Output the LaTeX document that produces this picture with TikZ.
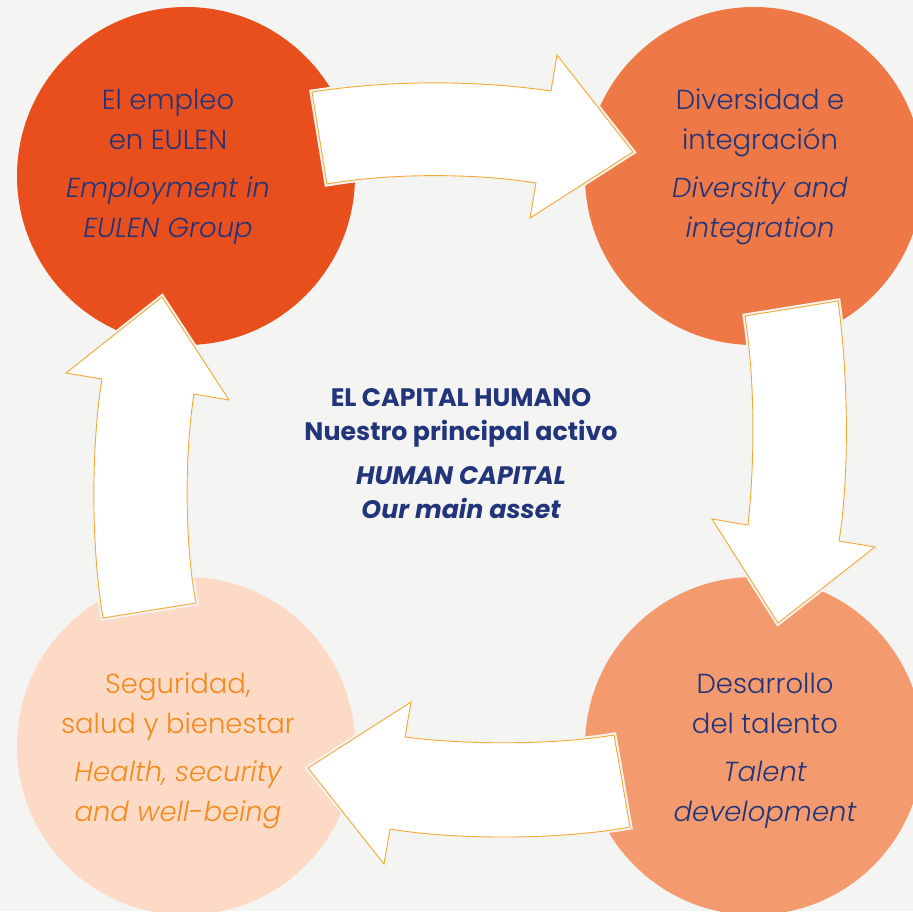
\documentclass[tikz,border=0pt]{standalone}
\usepackage{fontspec}
\setmainfont{Poppins}[UprightFont={* Light}, ItalicFont={* Light Italic}, BoldFont={* Bold}, BoldItalicFont={* Bold Italic}]
\definecolor{bgc}{HTML}{F4F4F2}
\definecolor{cA}{HTML}{E94F1D}
\definecolor{cB}{HTML}{EF7946}
\definecolor{cC}{HTML}{F39B6E}
\definecolor{cD}{HTML}{FCDAC5}
\definecolor{navy}{HTML}{22357A}
\definecolor{otxt}{HTML}{F28A1E}
\definecolor{arrline}{HTML}{F5A833}
\definecolor{halo}{HTML}{F3F3F1}
\tikzset{
  circ/.style={circle, minimum size=338pt, inner sep=0pt, draw=none},
  blockarrow/.style={fill=white, draw=arrline, line width=0.9pt, line join=miter,
     preaction={draw=halo, line width=5pt, line join=miter}},
  lbl/.style={align=center, text=navy, font=\fontsize{27.5}{40}\selectfont, inner sep=0pt},
  ctr/.style={align=center, text=navy, font=\fontsize{25.3}{34}\selectfont\bfseries, inner sep=0pt}
}
\begin{document}
\begin{tikzpicture}[x=1pt,y=-1pt]
\useasboundingbox (0,0) rectangle (913,911);
\clip (0,0) rectangle (913,911);
\fill[bgc] (0,0) rectangle (913,911);
\node[circ, fill=cA] (cA) at (186,176) {};
\node[circ, fill=cB] (cB) at (754,176) {};
\node[circ, fill=cC] (cC) at (754,746) {};
\node[circ, fill=cD] (cD) at (186,746) {};
% arrows
\draw[blockarrow] (312,92) .. controls (390,80) and (475,80) .. (551,91) -- (557,55) -- (633,152) -- (530,218) -- (536,183) .. controls (475,173) and (390,173) .. (327,184) -- cycle;
\draw[blockarrow] (745,316) -- (838,301) .. controls (849,380) and (849,480) .. (839,541) -- (875,547) -- (778,623) -- (712,519) -- (748,525) .. controls (755,460) and (755,380) .. (745,316) -- cycle;
\draw[blockarrow] (614,735) .. controls (555,745) and (465,745) .. (405,737) -- (411,702) -- (308,768) -- (384,864) -- (390,829) .. controls (455,840) and (560,840) .. (630,827) -- cycle;
\draw[blockarrow] (103,618) .. controls (90,540) and (92,440) .. (102,379) -- (66,373) -- (162,297) -- (229,400) -- (194,394) .. controls (185,450) and (184,540) .. (196,603) -- cycle;
% texts
\node[lbl] (tA) at (168,167) {El empleo\\en EULEN\\[8pt]\itshape Employment in\\\itshape EULEN Group};
\node[lbl] (tB) at (760,167) {Diversidad e\\integración\\[8pt]\itshape Diversity and\\\itshape integration};
\node[lbl] (tC) at (765,751) {Desarrollo\\del talento\\[8pt]\itshape Talent\\\itshape development};
\node[lbl, text=otxt] (tD) at (178,751) {Seguridad,\\salud y bienestar\\[8pt]\itshape Health, security\\\itshape and well-being};
\node[ctr] (tM) at (461,454) {EL CAPITAL HUMANO\\Nuestro principal activo\\[10pt]\itshape HUMAN CAPITAL\\\itshape Our main asset};
\end{tikzpicture}
\end{document}
